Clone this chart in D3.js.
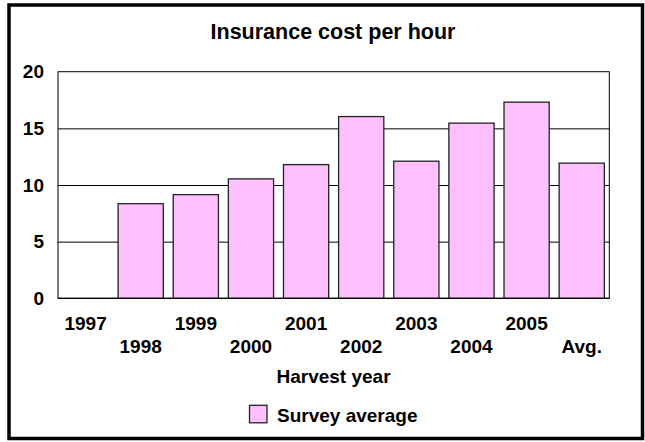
<!DOCTYPE html>
<html>
<head>
<meta charset="utf-8">
<script src="https://cdn.jsdelivr.net/npm/d3@7"></script>
<style>
  html, body { margin: 0; padding: 0; background: #fff; }
  svg { display: block; }
  text { font-family: "Liberation Sans", Arial, sans-serif; font-weight: bold; fill: #000; }
</style>
</head>
<body>
<svg id="chart" width="645" height="442"></svg>
<script>
const categories = ["1997", "1998", "1999", "2000", "2001", "2002", "2003", "2004", "2005", "Avg."];
const surveyAverage = [0, 8.35, 9.15, 10.54, 11.8, 16.04, 12.1, 15.46, 17.31, 11.93];
const yTicks = [0, 5, 10, 15, 20];
const seriesName = "Survey average";
const titleText = "Insurance cost per hour";
const xTitle = "Harvest year";

const svg = d3.select("#chart");
const W = 645, H = 442;
const plot = { left: 58, right: 609.3, top: 71.7, bottom: 298.3 };
const FONT = '"Liberation Sans", Arial, sans-serif';

svg.append("rect").attr("width", W).attr("height", H).attr("fill", "#fff");

// outer border
svg.append("rect")
  .attr("x", 9).attr("y", 5)
  .attr("width", 633.5).attr("height", 433.5)
  .attr("fill", "none").attr("stroke", "#000").attr("stroke-width", 3.5);

const x = d3.scaleBand()
  .domain(categories)
  .range([plot.left, plot.right])
  .paddingInner(0.18)
  .paddingOuter(0.09);

const y = d3.scaleLinear().domain([0, 20]).range([plot.bottom, plot.top]);

// gridlines
const grid = svg.append("g")
  .attr("transform", `translate(${plot.left},0)`)
  .call(d3.axisLeft(y).tickValues(yTicks.filter(v => v > 0 && v < 20))
    .tickSize(-(plot.right - plot.left)).tickFormat(""));
grid.select(".domain").remove();
grid.selectAll("line").attr("stroke", "#000").attr("stroke-width", 1);

// plot frame
svg.append("rect")
  .attr("x", plot.left).attr("y", plot.top)
  .attr("width", plot.right - plot.left).attr("height", plot.bottom - plot.top)
  .attr("fill", "none").attr("stroke", "#000").attr("stroke-width", 1);

// bars
svg.append("g").selectAll("rect")
  .data(categories.map((c, i) => ({ c, v: surveyAverage[i] })).filter(d => d.v > 0))
  .join("rect")
  .attr("x", d => x(d.c))
  .attr("y", d => y(d.v))
  .attr("width", x.bandwidth())
  .attr("height", d => y(0) - y(d.v))
  .attr("fill", "#ffc0ff")
  .attr("stroke", "#222")
  .attr("stroke-width", 1.3);

// baseline
svg.append("line")
  .attr("x1", plot.left).attr("x2", plot.right)
  .attr("y1", y(0)).attr("y2", y(0))
  .attr("stroke", "#000").attr("stroke-width", 1.3);

// y axis labels
const yAxis = svg.append("g")
  .attr("transform", `translate(${plot.left},0)`)
  .call(d3.axisLeft(y).tickValues(yTicks).tickSize(0).tickPadding(14).tickFormat(d3.format("d")));
yAxis.select(".domain").remove();
yAxis.selectAll("text")
  .style("font-size", "19px").style("font-weight", "bold")
  .style("font-family", FONT)
  .attr("fill", "#000");

// x axis labels (staggered)
const xAxis = svg.append("g")
  .attr("transform", `translate(0,${plot.bottom})`)
  .call(d3.axisBottom(x).tickSize(0));
xAxis.select(".domain").remove();
xAxis.selectAll("text")
  .style("font-size", "19px").style("font-weight", "bold")
  .style("font-family", FONT)
  .attr("fill", "#000")
  .attr("dy", null)
  .attr("y", (d, i) => (i % 2 === 0 ? 330 : 353.3) - plot.bottom);

// title
svg.append("text")
  .attr("x", 333).attr("y", 38.5)
  .attr("text-anchor", "middle")
  .style("font-size", "21.5px")
  .text(titleText);

// x title
svg.append("text")
  .attr("x", 333.5).attr("y", 383.3)
  .attr("text-anchor", "middle")
  .style("font-size", "19px")
  .text(xTitle);

// legend
const legend = svg.append("g");
legend.append("rect")
  .attr("x", 249.5).attr("y", 405.3)
  .attr("width", 17.5).attr("height", 17.5)
  .attr("fill", "#ffc0ff").attr("stroke", "#222").attr("stroke-width", 1.3);
legend.append("text")
  .attr("x", 277).attr("y", 422)
  .style("font-size", "19px")
  .text(seriesName);
</script>
</body>
</html>
